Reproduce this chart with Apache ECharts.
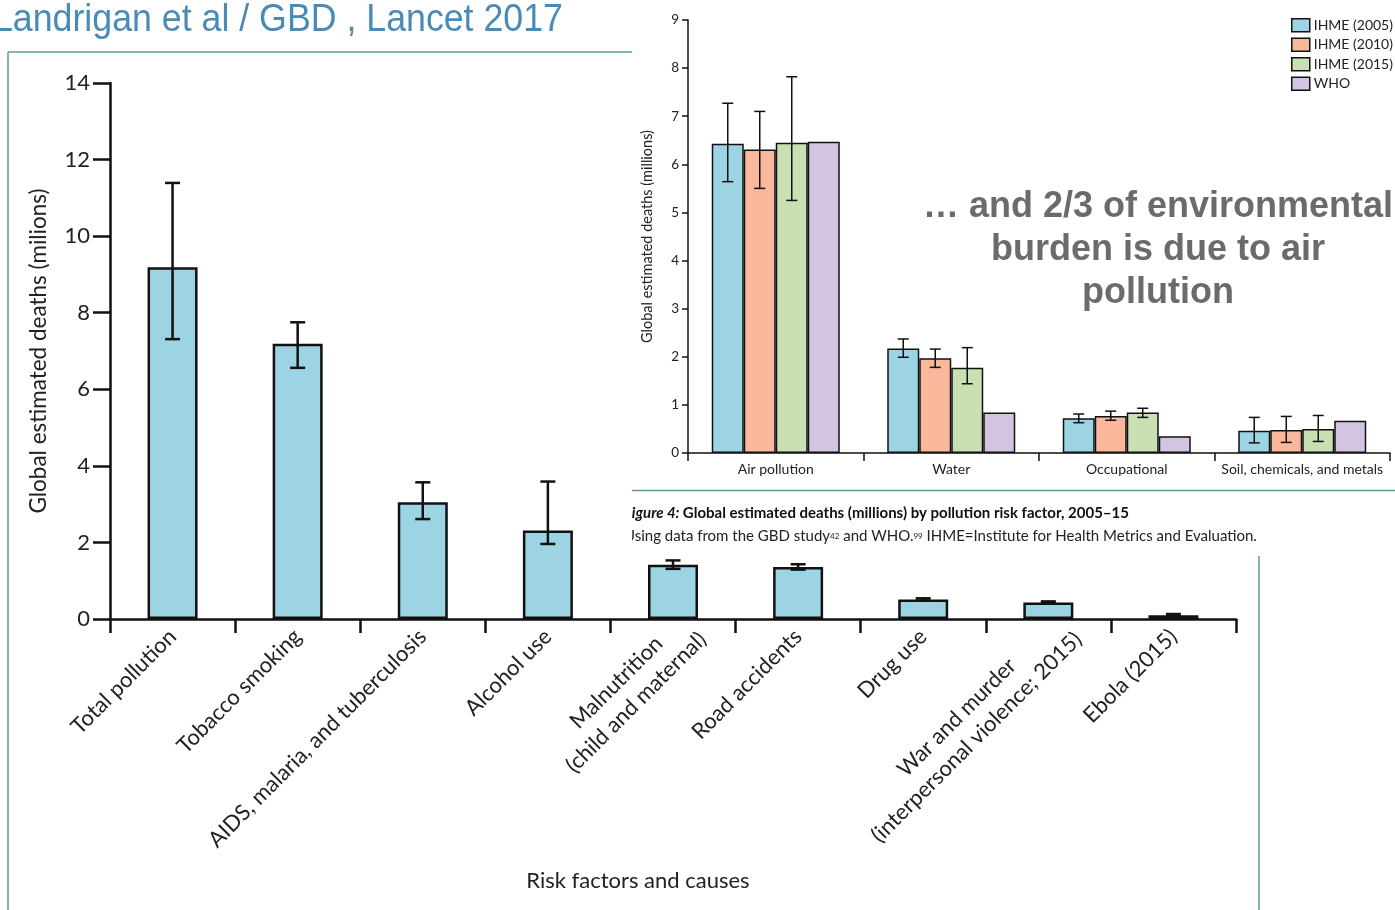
<!DOCTYPE html>
<html>
<head>
<meta charset="utf-8">
<script src="https://cdn.jsdelivr.net/npm/echarts@6/dist/echarts.min.js"></script>
<style>
html,body{margin:0;padding:0;background:#fff;}
#chart{width:1395px;height:910px;}
</style>
</head>
<body>
<div id="chart"></div>
<script>
// ---- Main chart data (millions of deaths) ----
var causes = ['Total pollution', 'Tobacco smoking', 'AIDS, malaria, and tuberculosis', 'Alcohol use',
  'Malnutrition\n(child and maternal)', 'Road accidents', 'Drug use',
  'War and murder\n(interpersonal violence; 2015)', 'Ebola (2015)'];
var deaths = [9.19, 7.19, 3.05, 2.31, 1.42, 1.36, 0.51, 0.43, 0.10];
var deathsLow = [7.31, 6.56, 2.61, 1.96, 1.31, 1.29, 0.48, 0.42, 0.07];
var deathsHigh = [11.39, 7.75, 3.57, 3.59, 1.53, 1.43, 0.54, 0.46, 0.13];

// ---- Inset chart data (Figure 4) ----
var factors = ['Air pollution', 'Water', 'Occupational', 'Soil, chemicals, and metals'];
var seriesNames = ['IHME (2005)', 'IHME (2010)', 'IHME (2015)', 'WHO'];
var ihme2005 = [6.43, 2.17, 0.72, 0.46];
var ihme2005Low = [5.64, 1.99, 0.63, 0.21];
var ihme2005High = [7.27, 2.37, 0.81, 0.74];
var ihme2010 = [6.31, 1.97, 0.77, 0.48];
var ihme2010Low = [5.50, 1.78, 0.68, 0.22];
var ihme2010High = [7.10, 2.16, 0.87, 0.76];
var ihme2015 = [6.45, 1.77, 0.84, 0.50];
var ihme2015Low = [5.25, 1.44, 0.74, 0.24];
var ihme2015High = [7.82, 2.19, 0.93, 0.78];
var who = [6.47, 0.84, 0.35, 0.67];

var mainTicks = [0, 2, 4, 6, 8, 10, 12, 14];
var insetTicks = [0, 1, 2, 3, 4, 5, 6, 7, 8, 9];

var chart = echarts.init(document.getElementById('chart'), null, {renderer: 'canvas'});

var LATO = 'Lato, "Open Sans", sans-serif';
var colors = ['#9dd4e3', '#f9b89b', '#c9e0b2', '#d3c4e1'];

function errData(low, high) {
  return low.map(function (l, i) { return [i, l, high[i]]; });
}
function errRender(offset, cap, lw) {
  return function (params, api) {
    var x = api.value(0);
    var p1 = api.coord([x, api.value(1)]);
    var p2 = api.coord([x, api.value(2)]);
    var cx = p1[0] + offset;
    var st = {stroke: '#111', lineWidth: lw};
    return {
      type: 'group',
      children: [
        {type: 'line', shape: {x1: cx, y1: p1[1], x2: cx, y2: p2[1]}, style: st},
        {type: 'line', shape: {x1: cx - cap / 2, y1: p1[1], x2: cx + cap / 2, y2: p1[1]}, style: st},
        {type: 'line', shape: {x1: cx - cap / 2, y1: p2[1], x2: cx + cap / 2, y2: p2[1]}, style: st}
      ]
    };
  };
}

var insetVals = [ihme2005, ihme2010, ihme2015, who];
var insetErr = [[ihme2005Low, ihme2005High], [ihme2010Low, ihme2010High], [ihme2015Low, ihme2015High]];

var series = [
  {
    type: 'bar', xAxisIndex: 0, yAxisIndex: 0, data: deaths, barWidth: 50,
    itemStyle: {color: colors[0], borderColor: '#111', borderWidth: 2.5},
    z: 2
  },
  {
    type: 'custom', xAxisIndex: 0, yAxisIndex: 0, data: errData(deathsLow, deathsHigh),
    encode: {x: 0, y: [1, 2]}, renderItem: errRender(0, 15, 2.5), clip: false, z: 3
  }
];
insetVals.forEach(function (v, i) {
  series.push({
    type: 'bar', name: seriesNames[i], xAxisIndex: 1, yAxisIndex: 1, data: v,
    barWidth: 32, barGap: '0%',
    itemStyle: {color: colors[i], borderColor: '#111', borderWidth: 1.5},
    z: 2
  });
});
insetErr.forEach(function (e, i) {
  series.push({
    type: 'custom', xAxisIndex: 1, yAxisIndex: 1, data: errData(e[0], e[1]),
    encode: {x: 0, y: [1, 2]}, renderItem: errRender((i - 1.5) * 32, 11, 1.5), clip: false, z: 3
  });
});

function centered(v) {
  return v.split('\n').map(function (s) { return '{c|' + s + '}'; }).join('\n');
}
// category entries for the axis; two-line labels get their block nudged like the original
var causeItems = causes.map(function (c) {
  if (c.indexOf('\n') >= 0) {
    return {value: c, textStyle: {padding: [18, -19, 0, 0]}};
  }
  return c;
});

var option = {
  backgroundColor: '#ffffff',
  animation: false,
  grid: [
    {left: 110, top: 83, width: 1126, height: 536},
    {left: 688, top: 20, width: 702, height: 433}
  ],
  legend: {
    data: seriesNames, orient: 'vertical', left: 1286, top: 13, icon: 'rect',
    itemWidth: 18, itemHeight: 13, itemGap: 5,
    itemStyle: {borderColor: '#111', borderWidth: 1.5},
    textStyle: {fontSize: 14, fontFamily: LATO, color: '#222', padding: [0, 0, 0, -1]}
  },
  xAxis: [
    {
      gridIndex: 0, type: 'category', data: causeItems,
      axisLine: {lineStyle: {color: '#111', width: 2.5}},
      axisTick: {show: true, length: 14, lineStyle: {color: '#111', width: 2.5}, alignWithLabel: false},
      axisLabel: {
        interval: 0, rotate: 45, margin: 14, formatter: centered,
        rich: {c: {align: 'center', fontSize: 22, fontFamily: LATO, color: '#222', lineHeight: 28}}
      }
    },
    {
      gridIndex: 1, type: 'category', data: factors,
      axisLine: {lineStyle: {color: '#111', width: 1.5}},
      axisTick: {show: true, length: 8, lineStyle: {color: '#111', width: 1.5}},
      axisLabel: {interval: 0, margin: 9, fontSize: 14, fontFamily: LATO, color: '#222'}
    }
  ],
  yAxis: [
    {
      gridIndex: 0, type: 'value', min: 0, max: 14, interval: 2,
      name: 'Global estimated deaths (milions)', nameLocation: 'middle', nameGap: 60,
      nameTextStyle: {fontSize: 22.5, fontFamily: LATO, color: '#222'},
      axisLine: {show: true, lineStyle: {color: '#111', width: 2.5}},
      axisTick: {show: true, length: 17, lineStyle: {color: '#111', width: 2.5}},
      splitLine: {show: false},
      axisLabel: {margin: 20, fontSize: 22, fontFamily: LATO, color: '#222'}
    },
    {
      gridIndex: 1, type: 'value', min: 0, max: 9, interval: 1,
      name: 'Global estimated deaths (millions)', nameLocation: 'middle', nameGap: 33,
      nameTextStyle: {fontSize: 14.5, fontFamily: LATO, color: '#222'},
      axisLine: {show: true, lineStyle: {color: '#111', width: 1.5}},
      axisTick: {show: true, length: 6, lineStyle: {color: '#111', width: 1.5}},
      splitLine: {show: false},
      axisLabel: {margin: 9, fontSize: 13.5, fontFamily: LATO, color: '#222'}
    }
  ],
  series: series,
  graphic: [
    {type: 'line', shape: {x1: 8, y1: 52, x2: 632, y2: 52}, style: {stroke: '#5a9f7e', lineWidth: 1.5}},
    {type: 'line', shape: {x1: 8, y1: 52, x2: 8, y2: 910}, style: {stroke: '#5a9f7e', lineWidth: 1.5}},
    {type: 'line', shape: {x1: 632, y1: 490.5, x2: 1395, y2: 490.5}, style: {stroke: '#5a9f7e', lineWidth: 1.5}},
    {type: 'line', shape: {x1: 1259, y1: 556, x2: 1259, y2: 910}, style: {stroke: '#5a9f7e', lineWidth: 1.5}},
    {
      type: 'text', x: -7, y: 2, scaleX: 0.94,
      style: {text: 'Landrigan et al / GBD , Lancet 2017', fill: '#4a8bb5',
        font: '38px "Liberation Sans", Arial, sans-serif'}
    },
    {
      type: 'text', x: 1158, y: 186,
      style: {text: '\u2026 and 2/3 of environmental\nburden is due to air\npollution', fill: '#6b6b6b',
        align: 'center', lineHeight: 43,
        font: 'bold 36px "Liberation Sans", Arial, sans-serif'}
    },
    {
      type: 'text', x: 638, y: 870,
      style: {text: 'Risk factors and causes', fill: '#222', align: 'center',
        font: '22px Lato, "Open Sans", sans-serif'}
    },
    {
      type: 'text', x: 624, y: 506, z: 10,
      style: {
        text: '{i|Figure 4:} {b|Global estimated deaths (millions) by pollution risk factor, 2005\u201315}',
        rich: {
          i: {fontFamily: LATO, fontSize: 15, fontStyle: 'italic', fontWeight: 'bold', fill: '#111'},
          b: {fontFamily: LATO, fontSize: 15, fontWeight: 'bold', fill: '#111'}
        }
      }
    },
    {
      type: 'text', x: 624, y: 527, z: 10,
      style: {
        text: '{n|Using data from the GBD study}{s|42}{n| and WHO.}{s|99}{n| IHME=Institute for Health Metrics and Evaluation.}',
        rich: {
          n: {fontFamily: LATO, fontSize: 15, fill: '#222', verticalAlign: 'bottom', height: 18},
          s: {fontFamily: LATO, fontSize: 8, fill: '#222', verticalAlign: 'top', height: 18}
        }
      }
    },
    {type: 'rect', shape: {x: 590, y: 498, width: 42, height: 50}, style: {fill: '#ffffff'}, z: 20}
  ]
};

chart.setOption(option);
</script>
</body>
</html>
